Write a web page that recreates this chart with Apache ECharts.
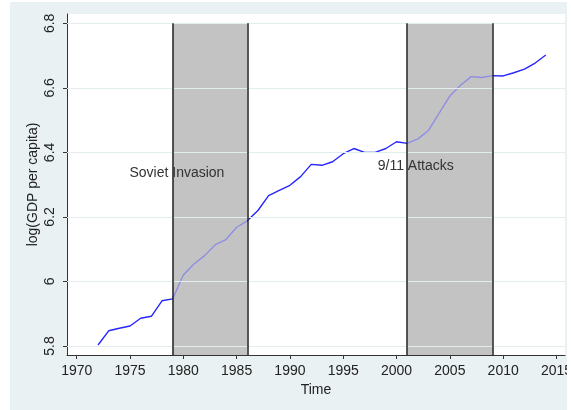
<!DOCTYPE html>
<html>
<head>
<meta charset="utf-8">
<script src="https://cdn.jsdelivr.net/npm/echarts@6/dist/echarts.min.js"></script>
<style>
  html, body { margin: 0; padding: 0; background: #fff; }
  #chart { position: absolute; left: 10px; top: 2px; width: 557px; height: 408px; }
</style>
</head>
<body>
<div id="chart"></div>
<script>
// log GDP per capita, yearly
const years = [1972, 1973, 1974, 1975, 1976, 1977, 1978, 1979, 1980, 1981,
  1982, 1983, 1984, 1985, 1986, 1987, 1988, 1989, 1990, 1991,
  1992, 1993, 1994, 1995, 1996, 1997, 1998, 1999, 2000, 2001,
  2002, 2003, 2004, 2005, 2006, 2007, 2008, 2009, 2010, 2011,
  2012, 2013, 2014]
const logGdp = [5.803, 5.847, 5.855, 5.862, 5.886, 5.892, 5.940, 5.946, 6.020, 6.054,
  6.080, 6.114, 6.130, 6.168, 6.188, 6.220, 6.266, 6.282, 6.298, 6.325,
  6.363, 6.360, 6.371, 6.396, 6.412, 6.400, 6.400, 6.412, 6.433, 6.428,
  6.442, 6.468, 6.522, 6.575, 6.608, 6.635, 6.632, 6.638, 6.637, 6.647,
  6.658, 6.677, 6.702]

const xTicks = [1970, 1975, 1980, 1985, 1990, 1995, 2000, 2005, 2010, 2015]
const yTicks = [5.8, 6, 6.2, 6.4, 6.6, 6.8]

const shaded = [[1979, 1986], [2001, 2009]]
const notes = [
  { text: 'Soviet Invasion', x: 1979.4, y: 6.336 },
  { text: '9/11 Attacks', x: 2001.8, y: 6.356 },
]

const xMin = 1969.09, xMax = 2015.8
const yMin = 5.772, yMax = 6.829
const shadeTop = 6.8

const font = 'Liberation Sans, Arial, sans-serif'
const chart = echarts.init(document.getElementById('chart'))

const lineData = years.map((y, i) => [y, logGdp[i]])

const option = {
  backgroundColor: '#e9f1f3',
  animation: false,
  grid: {
    left: 57, right: 2, top: 12, bottom: 55,
    outerBoundsMode: 'none',
    containLabel: false,
    show: true, backgroundColor: '#fff', borderWidth: 0,
  },
  xAxis: {
    type: 'value',
    min: xMin, max: xMax,
    name: 'Time', nameLocation: 'middle', nameGap: 26,
    nameTextStyle: { fontFamily: font, fontSize: 14, color: '#222' },
    axisLine: { show: true, lineStyle: { color: '#333', width: 1 } },
    axisTick: { show: true, length: 4, customValues: xTicks, lineStyle: { color: '#333' } },
    axisLabel: {
      customValues: xTicks, margin: 9, fontFamily: font, fontSize: 14, color: '#222',
      formatter: v => String(v),
    },
    splitLine: { show: false },
  },
  yAxis: {
    type: 'value',
    min: yMin, max: yMax,
    name: 'log(GDP per capita)', nameLocation: 'middle', nameGap: 27, nameRotate: 90,
    nameMoveOverlap: false,
    nameTextStyle: { fontFamily: font, fontSize: 14, color: '#222' },
    axisLine: { show: true, lineStyle: { color: '#333', width: 1 } },
    axisTick: { show: true, length: 4, customValues: yTicks, lineStyle: { color: '#333' } },
    axisLabel: { customValues: yTicks, rotate: 90, margin: 10, fontFamily: font, fontSize: 14, color: '#222' },
    splitLine: { show: false },
  },
  visualMap: {
    show: false,
    type: 'piecewise',
    seriesIndex: 1,
    dimension: 0,
    pieces: [
      { lt: shaded[0][0], color: '#2525ff' },
      { gte: shaded[0][0], lt: shaded[0][1], color: '#8e8ee2' },
      { gte: shaded[0][1], lt: shaded[1][0], color: '#2525ff' },
      { gte: shaded[1][0], lt: shaded[1][1], color: '#8e8ee2' },
      { gte: shaded[1][1], color: '#2525ff' },
    ],
  },
  series: [
    {
      // gridlines + shaded periods
      type: 'line',
      data: [],
      z: 1,
      markLine: {
        silent: true, symbol: 'none',
        label: { show: false },
        lineStyle: { color: '#e3edf0', width: 1, type: 'solid' },
        data: yTicks.map(v => ({ yAxis: v })),
      },
      markArea: {
        silent: true,
        itemStyle: { color: '#c3c3c3' },
        data: shaded.map(s => [{ coord: [s[0], shadeTop] }, { coord: [s[1], yMin] }]),
      },
    },
    {
      type: 'line',
      data: lineData,
      z: 3,
      symbol: 'none',
      lineStyle: { width: 1.4 },
      markLine: {
        silent: true, symbol: 'none',
        label: { show: false },
        lineStyle: { color: '#222', width: 1.5, type: 'solid' },
        data: shaded.flat().map(x => [{ coord: [x, yMin] }, { coord: [x, shadeTop] }]),
      },
      markPoint: {
        silent: true,
        symbol: 'circle', symbolSize: 0,
        label: {
          show: true, position: 'inside',
          fontFamily: font, fontSize: 14, color: '#333',
          formatter: p => p.name,
        },
        data: notes.map(n => ({ name: n.text, coord: [n.x, n.y] })),
      },
    },
  ],
}

chart.setOption(option)
</script>
</body>
</html>
